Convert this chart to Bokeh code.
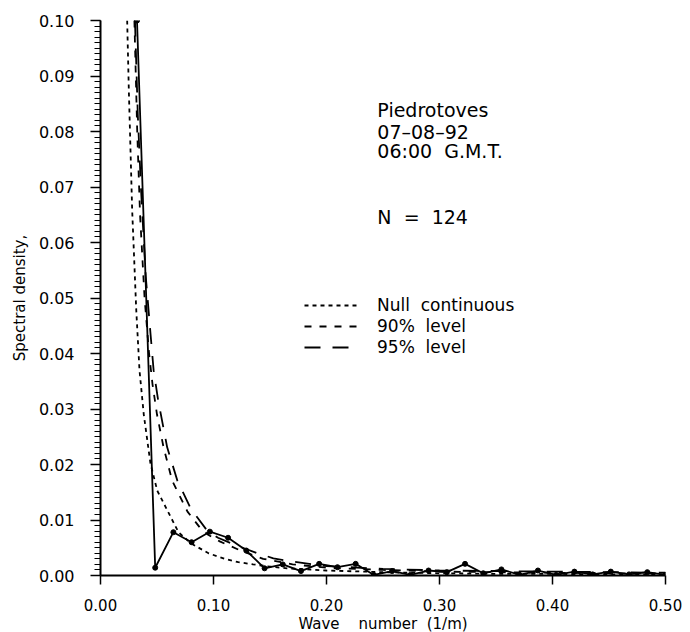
from bokeh.plotting import figure
from bokeh.models import (FixedTicker, PrintfTickFormatter, Legend, LegendItem,
                          Label)
from bokeh.embed import file_html
from bokeh.resources import INLINE

# ---- data ----
# periodogram (wave number k = j/62)
k_obs = [0.0323, 0.0484, 0.0645, 0.0806, 0.0968, 0.1129, 0.1290, 0.1452,
         0.1613, 0.1774, 0.1935, 0.2097, 0.2258, 0.2419, 0.2581, 0.2742,
         0.2903, 0.3065, 0.3226, 0.3387, 0.3548, 0.3710, 0.3871, 0.4032,
         0.4194, 0.4355, 0.4516, 0.4677, 0.4839, 0.5000]
s_obs = [0.1000, 0.0014, 0.0078, 0.0060, 0.0079, 0.0068, 0.0045, 0.0013,
         0.0020, 0.0008, 0.0021, 0.0015, 0.0021, 0.0001, 0.0008, 0.0001,
         0.0009, 0.0006, 0.0021, 0.0004, 0.0011, 0.0001, 0.0009, 0.0001,
         0.0007, 0.0002, 0.0007, 0.0002, 0.0006, 0.0001]

# null continuum
k_null = [0.0236, 0.0250, 0.0280, 0.0316, 0.0345, 0.0383, 0.0442, 0.0502,
          0.0605, 0.0690, 0.0800, 0.0956, 0.1100, 0.1220, 0.1350, 0.1500,
          0.1650, 0.2000, 0.2500, 0.3000, 0.3500, 0.4000, 0.4500, 0.5000]
s_null = [0.1000, 0.0880, 0.0660, 0.0480, 0.0370, 0.0290, 0.0202, 0.0153,
          0.0112, 0.0078, 0.0058, 0.0040, 0.0030, 0.0024, 0.0020, 0.0016,
          0.0013, 0.0009, 0.0006, 0.0004, 0.0003, 0.0003, 0.0002, 0.0002]

# 90% level
k_90 = [0.0300, 0.0325, 0.0350, 0.0390, 0.0430, 0.0460, 0.0500, 0.0558,
        0.0634, 0.0770, 0.0885, 0.0956, 0.1060, 0.1240, 0.1440, 0.1700,
        0.2000, 0.2500, 0.3000, 0.3500, 0.4000, 0.4500, 0.5000]
s_90 = [0.1000, 0.0800, 0.0650, 0.0500, 0.0400, 0.0345, 0.0290, 0.0231,
        0.0171, 0.0115, 0.0085, 0.0073, 0.0061, 0.0045, 0.0030, 0.0020,
        0.0014, 0.0010, 0.0007, 0.0006, 0.0005, 0.0004, 0.0004]

# 95% level
k_95 = [0.0305, 0.0330, 0.0360, 0.0400, 0.0442, 0.0470, 0.0510, 0.0590,
        0.0680, 0.0800, 0.0940, 0.1040, 0.1180, 0.1390, 0.1530, 0.1700,
        0.2000, 0.2500, 0.3000, 0.3500, 0.4000, 0.4500, 0.5000]
s_95 = [0.1000, 0.0830, 0.0690, 0.0540, 0.0437, 0.0370, 0.0316, 0.0231,
        0.0171, 0.0120, 0.0082, 0.0068, 0.0056, 0.0040, 0.0031, 0.0025,
        0.0017, 0.0012, 0.0009, 0.0008, 0.0007, 0.0006, 0.0005]

x_ticks = [0.0, 0.1, 0.2, 0.3, 0.4, 0.5]
y_ticks = [i / 100 for i in range(11)]
y_minor = [i / 1000 for i in range(101)]

legend_labels = ["Null\u00a0\u00a0continuous", "90%\u00a0\u00a0level", "95%\u00a0\u00a0level"]
info_lines = ["Piedrotoves", "07\u201308\u201392", "06:00\u00a0\u00a0G.M.T."]
n_text = "N\u00a0\u00a0=\u00a0\u00a0124"

FONT = "DejaVu Sans"

p = figure(frame_width=565, frame_height=555, output_backend="svg",
           toolbar_location=None, x_range=(0, 0.5), y_range=(0, 0.1),
           min_border_left=100, min_border_right=17, min_border_top=20,
           min_border_bottom=50)
p.outline_line_color = None
p.xgrid.visible = False
p.ygrid.visible = False
p.background_fill_color = "white"

# axes
p.xaxis.ticker = FixedTicker(ticks=x_ticks, minor_ticks=[])
p.yaxis.ticker = FixedTicker(ticks=y_ticks, minor_ticks=y_minor)
for ax in (p.xaxis, p.yaxis):
    ax.formatter = PrintfTickFormatter(format="%.2f")
    ax.axis_line_width = 2
    ax.axis_line_color = "black"
    ax.major_tick_line_color = "black"
    ax.major_tick_line_width = 1.5
    ax.major_tick_in = 0
    ax.major_label_text_font = FONT
    ax.major_label_text_color = "black"
    ax.axis_label_text_font = FONT
    ax.axis_label_text_font_style = "normal"
    ax.axis_label_text_color = "black"
p.xaxis.major_tick_out = 9
p.xaxis.minor_tick_line_color = None
p.xaxis.major_label_standoff = 14
p.xaxis.major_label_text_font_size = "15px"
p.xaxis.axis_label = "Wave\u00a0\u00a0\u00a0\u00a0number\u00a0\u00a0(1/m)"
p.xaxis.axis_label_text_font_size = "15px"
p.xaxis.axis_label_standoff = 1

p.yaxis.major_tick_out = 10
p.yaxis.minor_tick_out = 6
p.yaxis.minor_tick_in = 0
p.yaxis.minor_tick_line_color = "black"
p.yaxis.minor_tick_line_width = 1.2
p.yaxis.major_label_standoff = 16
p.yaxis.major_label_text_font_size = "16px"
p.yaxis.axis_label = "Spectral density,"
p.yaxis.axis_label_text_font_size = "15px"
p.yaxis.axis_label_standoff = 7

# curves
r_null = p.line(k_null, s_null, line_color="black", line_width=1.8, line_dash="4 4")
r_90 = p.line(k_90, s_90, line_color="black", line_width=1.8, line_dash="7 8")
r_95 = p.line(k_95, s_95, line_color="black", line_width=1.8, line_dash="16 12")
p.line(k_obs, s_obs, line_color="black", line_width=1.8)
p.scatter(k_obs, s_obs, size=5, marker="circle", fill_color="black",
          line_color="black")

legend = Legend(items=[LegendItem(label=legend_labels[0], renderers=[r_null]),
                       LegendItem(label=legend_labels[1], renderers=[r_90]),
                       LegendItem(label=legend_labels[2], renderers=[r_95])],
                location=(204, 218), glyph_width=56, glyph_height=20,
                label_height=20, spacing=1, padding=0, margin=0,
                label_standoff=17, label_text_font=FONT,
                label_text_font_size="17px", label_text_color="black",
                background_fill_alpha=0, border_line_color=None)
p.add_layout(legend)

# annotation text
info_y = [0.0838, 0.0800, 0.0764]
for txt, yy in zip(info_lines, info_y):
    p.add_layout(Label(x=0.245, y=yy, text=txt, text_font=FONT,
                       text_font_size="19px", text_baseline="alphabetic",
                       text_color="black"))
p.add_layout(Label(x=0.245, y=0.0646, text=n_text, text_font=FONT,
                   text_font_size="19px", text_baseline="alphabetic",
                   text_color="black"))

open("out.html", "w").write(file_html(p, INLINE))
